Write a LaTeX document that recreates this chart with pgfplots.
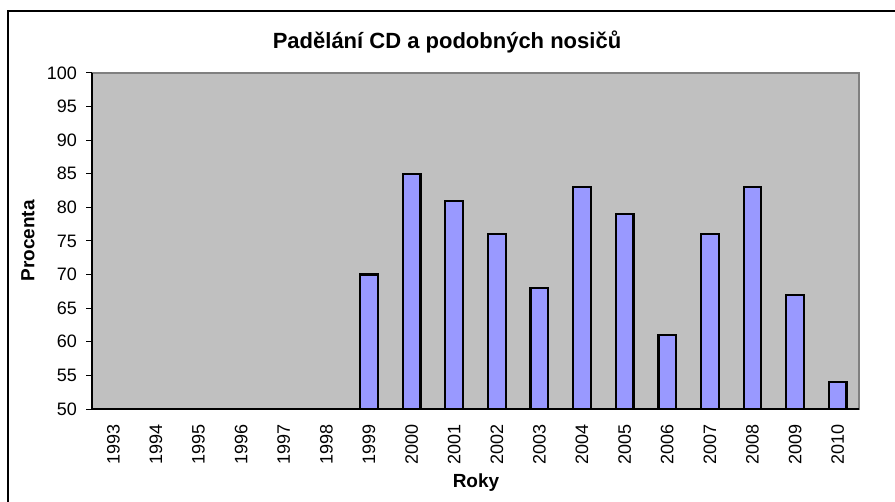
\documentclass[border=0pt]{standalone}
\usepackage{pgfplots}
\pgfplotsset{compat=1.18}
\usepackage{fontspec}
\setmainfont{Liberation Sans}
\definecolor{plotbg}{HTML}{C0C0C0}
\definecolor{barfill}{HTML}{9999FF}
\definecolor{frameg}{HTML}{808080}
\begin{document}
\begin{tikzpicture}
\useasboundingbox (0pt,0pt) rectangle (447.5pt,-251pt);
\draw[line width=0.6pt] (4pt,-251pt) -- (4pt,-5.5pt) -- (447.5pt,-5.5pt);
\begin{axis}[
  at={(46pt,-204.5pt)}, anchor=south west,
  scale only axis, width=383.5pt, height=168pt,
  xmin=-0.5, xmax=17.5, ymin=50, ymax=100,
  ytick={50,55,...,100},
  xtick={0,...,17},
  xticklabels={1993,1994,1995,1996,1997,1998,1999,2000,2001,2002,2003,2004,2005,2006,2007,2008,2009,2010},
  extra x ticks={-0.5,0.5,...,17.5},
  extra x tick labels={},
  extra x tick style={major tick length=5pt, tick align=center, tick style={black, line width=0.5pt}},
  x tick style={draw=none},
  y tick style={black, line width=0.5pt},
  major tick length=3pt,
  tick align=outside,
  axis line style={black, line width=0.8pt},
  axis x line*=bottom, axis y line*=left,
  axis background/.style={fill=plotbg, draw=frameg, line width=0.8pt},
  xticklabel style={rotate=90, anchor=east, font=\fontsize{9}{10}\selectfont, xshift=-1pt},
  yticklabel style={font=\fontsize{9}{10}\selectfont, xshift=-1pt},
  /pgf/number format/assume math mode=true,
  ybar, bar width=8.85pt,
  clip=true,
]
\addplot[fill=barfill, draw=black, line width=1.1pt] coordinates {
(6,70) (7,85) (8,81) (9,76) (10,68) (11,83) (12,79) (13,61) (14,76) (15,83) (16,67) (17,54)
};
\end{axis}
\node[font=\bfseries\fontsize{11}{13}\selectfont] at (223.5pt,-21pt) {Padělání CD a podobných nosičů};
\node[font=\bfseries\fontsize{9.5}{11}\selectfont, rotate=90] at (14pt,-120.5pt) {Procenta};
\node[font=\bfseries\fontsize{9.5}{11}\selectfont] at (238pt,-241.5pt) {Roky};
\end{tikzpicture}
\end{document}
